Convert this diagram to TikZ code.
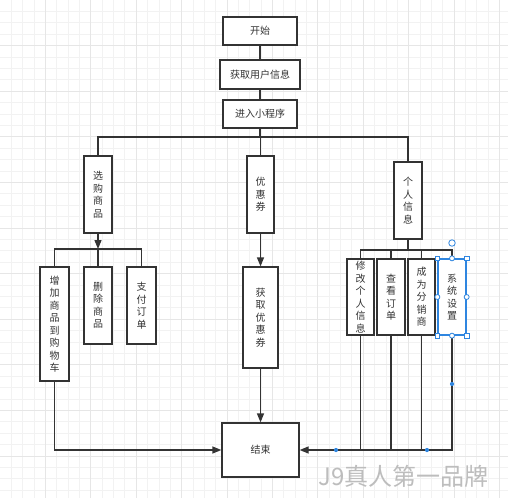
\documentclass[tikz,border=0pt]{standalone}
\usepackage{fontspec}
\newfontfamily\cjk{Noto Sans CJK SC}
\usetikzlibrary{arrows.meta}
\definecolor{ln}{HTML}{333333}
\definecolor{sel}{HTML}{2F86E0}
\definecolor{gminor}{HTML}{F2F2F2}
\definecolor{gmajor}{HTML}{E6E6E6}
\begin{document}
\begin{tikzpicture}[x=1pt,y=-1pt,
  box/.style={draw=ln, line width=1.3pt, fill=white, inner sep=0pt,
    font=\cjk\fontsize{10}{12.5}\selectfont, text=ln, align=center},
  conn/.style={draw=ln, line width=1.3pt},
  arr/.style={conn, -{Triangle[length=9pt,width=7pt]}},
  sqh/.style={draw=sel, line width=0.8pt, fill=white, minimum size=4.5pt, inner sep=0pt, shape=rectangle},
  cih/.style={draw=sel, line width=0.8pt, fill=white, minimum size=5pt, inner sep=0pt, shape=circle},
]
\useasboundingbox (0,0) rectangle (508,498);
\fill[white] (0,0) rectangle (508,498);
% grid
\foreach \i in {1,...,44} {
  \draw[gminor, line width=0.8pt] ({\i*11.35},0) -- ({\i*11.35},498);
  \draw[gminor, line width=0.8pt] (0,{\i*11.4}) -- (508,{\i*11.4});
}
\foreach \i in {4,8,...,44} {
  \draw[gmajor, line width=0.9pt] ({\i*11.35},0) -- ({\i*11.35},498);
  \draw[gmajor, line width=0.9pt] (0,{\i*11.4}) -- (508,{\i*11.4});
}

% nodes
\node[box, minimum width=74pt, minimum height=28pt] (ks) at (260,31) {开始};
\node[box, minimum width=80pt, minimum height=29pt] (hq) at (260,74.5) {获取用户信息};
\node[box, minimum width=74pt, minimum height=28pt] (jr) at (260,114) {进入小程序};

\node[box, minimum width=28pt, minimum height=77pt] (xg) at (98,194.5) {选\\购\\商\\品};
\node[box, minimum width=27pt, minimum height=77pt] (yh) at (260.5,194.5) {优\\惠\\券};
\node[box, minimum width=28pt, minimum height=77pt] (gr) at (408,200.5) {个\\人\\信\\息};

\node[box, minimum width=29pt, minimum height=114pt] (zj) at (54.5,324) {增\\加\\商\\品\\到\\购\\物\\车};
\node[box, minimum width=28pt, minimum height=77pt] (sc) at (98,305.5) {删\\除\\商\\品};
\node[box, minimum width=29pt, minimum height=77pt] (zf) at (141.5,305.5) {支\\付\\订\\单};

\node[box, minimum width=35pt, minimum height=101pt] (hy) at (260.5,317.5) {获\\取\\优\\惠\\券};

\node[box, minimum width=27pt, minimum height=76pt] (xx) at (360.5,297) {修\\改\\个\\人\\信\\息};
\node[box, minimum width=28pt, minimum height=76pt] (ck) at (391,297) {查\\看\\订\\单};
\node[box, minimum width=27pt, minimum height=76pt] (cw) at (421.5,297) {成\\为\\分\\销\\商};
\node[box, draw=sel, minimum width=28pt, minimum height=76pt] (xt) at (452,297) {系\\统\\设\\置};

\node[box, minimum width=77pt, minimum height=54pt] (js) at (260.5,450) {结束};

% bus coordinates
\coordinate (b1) at (260,137);
\coordinate (b2) at (98,249);
\coordinate (b3) at (408,250);

% connectors
\draw[conn] (ks) -- (hq);
\draw[conn] (hq) -- (jr);
\draw[conn] (jr.south) -- (jr.south |- b1);
\draw[conn] (xg.north) |- (b1) -| (gr.north);
\draw[conn] (yh.north) -- (yh.north |- b1);

\draw[arr] (xg.south) -- (b2);
\draw[conn] (zj.north) |- (b2) -| (zf.north);
\draw[conn] (sc.north) -- (sc.north |- b2);

\draw[arr] (yh) -- (hy);
\draw[arr] (hy) -- (js);

\draw[conn] (gr.south) -- (b3);
\draw[conn] (xx.north) |- (b3) -| (xt.north);
\draw[conn] (ck.north) -- (ck.north |- b3);
\draw[conn] (cw.north) -- (cw.north |- b3);

\draw[arr] (zj.south) |- (js.west);
\draw[arr] (xt.south) |- (js.east);
\draw[conn] (xx.south) -- (xx.south |- js.east);
\draw[conn] (ck.south) -- (ck.south |- js.east);
\draw[conn] (cw.south) -- (cw.south |- js.east);

% selection handles
\node[sqh] (h1) at (xt.north west) {};
\node[sqh] (h2) at (xt.north east) {};
\node[sqh] (h3) at (xt.south west) {};
\node[sqh] (h4) at (xt.south east) {};
\node[cih] (h5) at (xt.north) {};
\node[cih] (h6) at (xt.south) {};
\node[cih] (h7) at (xt.west) {};
\node[cih] (h8) at (xt.east) {};
\node[cih, minimum size=6.5pt] (h9) at (452,243) {};
\fill[sel] (336,450) circle (2.1pt);
\fill[sel] (427,450) circle (2.1pt);
\fill[sel] (452,384) circle (2.1pt);

% watermark
\node[font=\cjk\fontsize{24}{24}\selectfont, text=black!26, inner sep=0pt] (wm) at (403.5,476.5) {J9真人第一品牌};
\end{tikzpicture}
\end{document}
